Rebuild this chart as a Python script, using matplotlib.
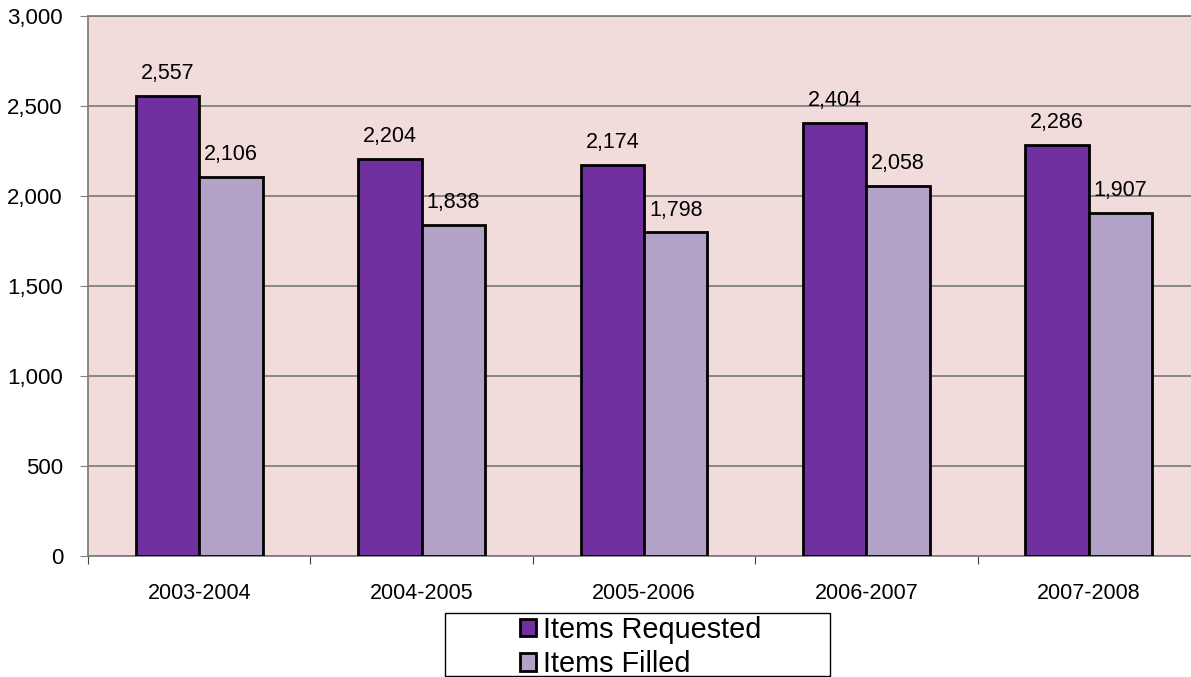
import numpy as np
import matplotlib
matplotlib.use('Agg')
import matplotlib.pyplot as plt
from matplotlib.patches import Rectangle
from matplotlib.ticker import FuncFormatter

years = ['2003-2004', '2004-2005', '2005-2006', '2006-2007', '2007-2008']
requested = [2557, 2204, 2174, 2404, 2286]
filled = [2106, 1838, 1798, 2058, 1907]

plt.rcParams['font.family'] = ['Liberation Sans', 'DejaVu Sans']

W, H = 1191, 677
fig = plt.figure(figsize=(W / 100, H / 100), dpi=100)
# plot area runs a little past the right edge, as in the source
ax = fig.add_axes([88 / W, 1 - 556 / H, 1112 / W, 540 / H])
ax.set_facecolor('#F2DCDB')

x = np.arange(len(years))
w = 0.285
b1 = ax.bar(x - w / 2, requested, w, color='#7030A0', edgecolor='black', linewidth=2,
            label='Items Requested', zorder=3)
b2 = ax.bar(x + w / 2, filled, w, color='#B3A2C7', edgecolor='black', linewidth=2,
            label='Items Filled', zorder=3)

for bars in (b1, b2):
    for r in bars:
        ax.annotate(f'{int(r.get_height()):,}', (r.get_x() + r.get_width() / 2, r.get_height()),
                    xytext=(0, 8.5), textcoords='offset points', ha='center', va='bottom',
                    fontsize=15.5)

ax.set_xlim(-0.5, len(years) - 0.5)
ax.set_ylim(0, 3000)
ax.set_yticks(np.arange(0, 3001, 500))
ax.yaxis.set_major_formatter(FuncFormatter(lambda v, p: f'{int(v):,}'))
ax.yaxis.grid(True, color='#808080', linewidth=1.3, zorder=1)

ax.set_xticks(np.arange(-0.5, len(years)))
ax.set_xticklabels([])
ax.set_xticks(x, minor=True)
ax.set_xticklabels(years, minor=True)
ax.tick_params(axis='x', which='minor', length=0, pad=19.5, labelsize=15.5)
ax.tick_params(axis='x', which='major', length=6, color='#404040', direction='out')
ax.tick_params(axis='y', length=6, color='#808080', labelsize=16, pad=12)

for s in ['top', 'left', 'bottom']:
    ax.spines[s].set_color('#808080')
    ax.spines[s].set_linewidth(1.3)
ax.spines['right'].set_visible(False)

# legend box (Excel style, wider than its entries)
fig.patches.append(Rectangle((445 / W, 1 - 676 / H), 385 / W, 63 / H, transform=fig.transFigure,
                             facecolor='white', edgecolor='black', linewidth=1.0, zorder=5))
leg = fig.legend(loc='center', bbox_to_anchor=(641 / W, 1 - 647 / H), ncol=1,
                 fontsize=20.8, frameon=False,
                 handlelength=0.55, handleheight=0.55, handletextpad=0.25,
                 labelspacing=0.22, borderpad=0.0)
leg.set_zorder(6)
for h in leg.legend_handles:
    h.set_linewidth(2)

fig.savefig('out.png', dpi=100)
